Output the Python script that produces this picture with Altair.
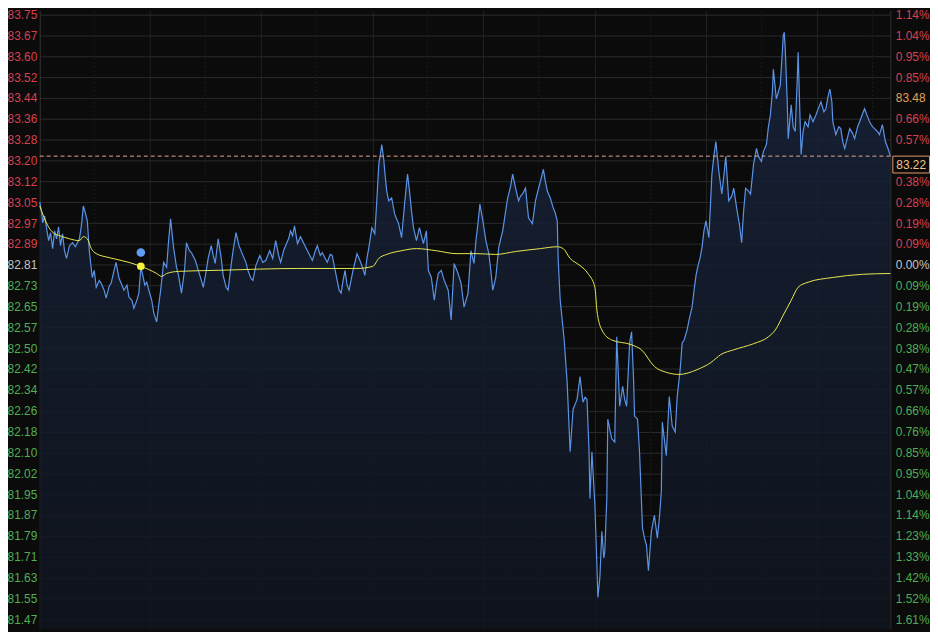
import altair as alt
import pandas as pd

# ---- axis / reference values ----
PRE_CLOSE = 82.81
STEP = 0.0787
LAST_PRICE = 83.22
Y_DOMAIN = [81.434, 83.769]
X_DOMAIN = [0, 858]
VGRID = [111, 223, 336, 447, 560, 672, 784]
VGRID_MINOR = [55, 167, 279, 391, 503, 616, 728, 840]

LEFT_LABELS = ["83.75", "83.67", "83.60", "83.52", "83.44", "83.36", "83.28", "83.20", "83.12", "83.05",
               "82.97", "82.89", "82.81", "82.73", "82.65", "82.57", "82.50", "82.42", "82.34", "82.26",
               "82.18", "82.10", "82.02", "81.95", "81.87", "81.79", "81.71", "81.63", "81.55", "81.47"]
# the 0.47% slot above the pre-close is hidden behind the last-price tag in the reference
RIGHT_LABELS = ["1.14%", "1.04%", "0.95%", "0.85%", "83.48", "0.66%", "0.57%", "", "0.38%", "0.28%",
                "0.19%", "0.09%", "0.00%", "0.09%", "0.19%", "0.28%", "0.38%", "0.47%", "0.57%", "0.66%",
                "0.76%", "0.85%", "0.95%", "1.04%", "1.14%", "1.23%", "1.33%", "1.42%", "1.52%", "1.61%"]

# ---- price series (time index, price) ----
T = [0, 2, 3, 5, 7, 9, 11, 13, 15, 17, 19, 21, 23, 25, 27, 30, 33, 36, 40, 42, 44, 46, 48, 50, 53, 55, 57, 60, 62, 65,
     67, 70, 72, 75, 77, 80, 83, 85, 88, 90, 93, 95, 98, 100, 102, 104, 106, 108, 110, 113, 115, 118, 120, 122, 125,
     128, 130, 132, 135, 138, 140, 143, 146, 148, 151, 153, 157, 160, 163, 165, 168, 170, 173, 175, 177, 180, 183, 185, 188,
     190, 193, 195, 198, 201, 205, 208, 210, 213, 215, 218, 222, 225, 228, 232, 235, 238, 241, 243, 246, 248, 251, 253,
     255, 257, 260, 263, 265, 268, 270, 273, 275, 278, 280, 283, 285, 288, 290, 293, 295, 298, 300, 302, 304, 306, 308,
     310, 312, 314, 316, 318,
     320, 323, 326, 328, 330, 332, 335, 338, 340, 342, 344, 345, 347, 348, 350, 352, 355, 358, 360, 362, 365, 368, 371,
     373, 375, 377, 380, 383, 385, 387, 390, 392, 395, 398, 400, 402, 405, 408, 410, 412, 415, 418, 420, 422, 425, 428,
     430, 432, 435, 438, 440, 442, 444, 447, 450, 453, 455, 457, 460, 463, 465, 467, 470, 472, 475, 477, 480, 483, 485,
     487, 490, 493, 495, 497, 500, 503, 505, 508, 510, 512, 515, 518, 520, 522, 523, 525, 527, 529,
     532, 535, 538, 540, 542, 545, 547, 548, 550, 552, 554, 555, 557, 560, 562, 563, 565, 567, 569, 570, 572, 573, 575,
     577, 580, 582, 585, 588, 590, 592, 595, 597, 599, 600, 603, 605, 608, 610, 612, 614, 617, 620, 623, 625, 627, 628,
     630, 632, 635, 638, 641, 643, 646, 648, 650, 653, 655, 658,
     660, 662, 664, 666, 668, 670, 672, 675, 678, 680, 682, 685, 688, 690, 692, 695, 698, 700, 703, 706, 708, 710, 712,
     715, 717, 720, 723, 725, 728, 730, 733, 735, 737, 739, 740, 743, 745, 747, 749, 750, 751, 752, 754, 755, 758, 760,
     762, 764, 765, 767, 768, 770, 772, 775, 777, 780, 783, 786, 788, 791, 793, 795, 797, 799, 800, 803, 806, 808, 810,
     812, 815, 817, 820, 822, 825, 827, 830, 832, 835, 837, 840, 842, 845, 847, 850, 853, 856, 858]

PRICE = [83.047, 83.006, 82.968, 82.994, 82.946, 82.901, 82.931, 82.871, 82.938, 82.908,
         82.953, 82.882, 82.927, 82.863, 82.834, 82.882, 82.893, 82.878, 82.908, 82.957,
         83.032, 83.006, 82.976, 82.863, 82.762, 82.789, 82.725, 82.751, 82.740, 82.714,
         82.684, 82.729, 82.740, 82.789, 82.819, 82.759, 82.733, 82.714, 82.733, 82.688,
         82.676, 82.646, 82.676, 82.703, 82.800, 82.770, 82.733, 82.744, 82.714, 82.676,
         82.628, 82.594, 82.658, 82.714, 82.819, 82.800, 82.901, 82.983, 82.875, 82.800,
         82.770, 82.703, 82.789, 82.893, 82.863, 82.856, 82.826, 82.789, 82.751, 82.725,
         82.789, 82.837, 82.882, 82.845, 82.815, 82.908, 82.837, 82.770, 82.725,
         82.714, 82.807, 82.863, 82.931, 82.882, 82.845, 82.819, 82.789, 82.759, 82.751,
         82.807, 82.845, 82.819, 82.826, 82.863, 82.834, 82.901, 82.845, 82.819, 82.863,
         82.882, 82.908, 82.938, 82.920, 82.957, 82.890, 82.916, 82.901, 82.878, 82.863,
         82.841, 82.826, 82.863, 82.882, 82.845, 82.856, 82.834, 82.819, 82.849, 82.845,
         82.789, 82.751, 82.714, 82.703, 82.751, 82.789, 82.733, 82.714, 82.751, 82.789, 82.819,
         82.852, 82.826, 82.796, 82.770, 82.834, 82.875, 82.950, 82.927, 83.051, 83.189,
         83.238, 83.264, 83.208, 83.163, 83.088, 83.051, 83.062, 83.002, 82.983, 82.965,
         82.912, 83.039, 83.152, 83.088, 83.013, 82.950, 82.901, 82.950, 82.920, 82.890,
         82.938, 82.789, 82.762, 82.676, 82.733, 82.777, 82.789, 82.751, 82.733, 82.714,
         82.602, 82.815, 82.796, 82.777, 82.740, 82.650, 82.676, 82.703, 82.863, 82.815,
         82.901, 82.965, 83.039, 82.976, 82.901, 82.852, 82.789, 82.714, 82.762, 82.875,
         82.908, 82.938, 83.013, 83.062, 83.107, 83.152, 83.099, 83.051, 83.069, 83.077,
         83.099, 82.987, 82.976, 82.965, 83.051, 83.096, 83.125, 83.170, 83.125, 83.088,
         83.062, 83.024, 83.006, 82.976, 82.826, 82.676, 82.602, 82.526,
         82.366, 82.104, 82.265, 82.283, 82.302, 82.388, 82.321, 82.291, 82.310, 82.302,
         82.115, 81.928, 82.104, 81.902, 81.677, 81.554, 81.629, 81.804, 81.703, 81.730,
         81.928, 82.227, 82.190, 82.153, 82.141, 82.538, 82.276, 82.351, 82.302, 82.276,
         82.515, 82.557, 82.377, 82.239, 82.227, 82.104, 81.816, 81.778, 81.752, 81.655,
         81.804, 81.864, 81.778, 81.853, 81.954, 82.216, 82.153, 82.089, 82.313, 82.201,
         82.179, 82.313, 82.414, 82.515, 82.526, 82.564, 82.602, 82.650,
         82.714, 82.770, 82.807, 82.834, 82.875, 82.938, 82.976, 82.912, 83.152, 83.219,
         83.275, 83.163, 83.077, 83.144, 83.219, 83.051, 83.069, 83.099, 83.024, 82.957,
         82.893, 83.013, 83.099, 83.088, 83.077, 83.189, 83.249, 83.219, 83.200, 83.238,
         83.264, 83.331, 83.376, 83.462, 83.548, 83.436, 83.462, 83.488, 83.612, 83.676,
         83.687, 83.623, 83.425, 83.286, 83.414, 83.331, 83.313, 83.500, 83.612, 83.350,
         83.226, 83.313, 83.350, 83.331, 83.376, 83.350, 83.376, 83.406, 83.425, 83.387,
         83.399, 83.443, 83.473, 83.425, 83.350, 83.301, 83.331, 83.324, 83.275, 83.249,
         83.294, 83.324, 83.305, 83.286, 83.331, 83.350, 83.380, 83.399, 83.369, 83.350,
         83.331, 83.324, 83.313, 83.301, 83.339, 83.275, 83.245, 83.220]

# ---- average price line ----
AVG_T = [0, 5, 10, 15, 20, 30, 40, 44, 48, 52, 57, 70, 90, 102, 110, 118, 123, 128, 140, 180,
         260, 320, 336, 342, 350, 365, 380, 400, 420, 440, 460, 480, 505, 522, 528, 535, 545, 553, 560, 562,
         567, 577, 597, 607, 620, 633, 645, 663, 677, 687, 700, 720, 735, 742, 750, 758, 765, 775, 800, 830, 858]
AVG = [83.032, 82.983, 82.946, 82.927, 82.920, 82.908, 82.901, 82.916, 82.908, 82.871,
       82.852, 82.837, 82.819, 82.804, 82.792, 82.777, 82.766, 82.777, 82.785, 82.789,
       82.796, 82.796, 82.804, 82.834, 82.849, 82.863, 82.871, 82.863, 82.852, 82.852,
       82.849, 82.860, 82.871, 82.878, 82.871, 82.834, 82.807, 82.777, 82.725, 82.639,
       82.564, 82.526, 82.508, 82.489, 82.426, 82.403, 82.396, 82.414, 82.441, 82.471,
       82.489, 82.512, 82.538, 82.564, 82.620, 82.676, 82.725, 82.744, 82.762, 82.774, 82.777]

# ---- cursor marker ----
CURSOR_T = 102
CURSOR_PRICE = 82.856
CURSOR_AVG = 82.804

RED = "#d9414f"
GREEN = "#4fae57"
GRAY = "#c4c4c4"
ORANGE = "#e3a258"
BLUE = "#5b93e6"
YELLOW = "#e8e850"
BG = "#0b0b0b"
FONT = "Liberation Sans"

TICKS = [round(PRE_CLOSE + k * STEP, 4) for k in range(12, -18, -1)]
TOP_TICK = TICKS[0]


def label_expr(labels):
    arr = ",".join("'" + s + "'" for s in labels)
    return "[" + arr + "][round((" + str(TOP_TICK) + " - datum.value) / " + str(STEP) + ")]"


price_df = pd.DataFrame({"t": T, "price": PRICE})
avg_df = pd.DataFrame({"t": AVG_T, "price": AVG})
cursor_df = pd.DataFrame({"t": [CURSOR_T, CURSOR_T], "price": [CURSOR_PRICE, CURSOR_AVG],
                          "kind": ["price", "avg"]})
minor_df = pd.DataFrame({"t": VGRID_MINOR})
last_df = pd.DataFrame({"price": [LAST_PRICE], "label": [f"{LAST_PRICE:.2f}"]})

y_scale = alt.Scale(domain=Y_DOMAIN, zero=False, nice=False)
x_scale = alt.Scale(domain=X_DOMAIN, zero=False, nice=False)

x_axis = alt.Axis(values=VGRID, labels=False, ticks=False, domain=False, grid=True,
                  gridColor="#222222", gridWidth=1, title=None)
X = alt.X("t:Q", scale=x_scale, axis=x_axis)
Y_NOAXIS = alt.Y("price:Q", scale=y_scale, axis=None)

left_axis = alt.Axis(
    orient="left", values=TICKS, labelExpr=label_expr(LEFT_LABELS), grid=True,
    gridColor="#282a2e", gridWidth=1, ticks=False, domain=True, domainColor="#333333",
    labelPadding=3, labelFont=FONT, labelFontSize=12, title=None, labelFlush=False,
    labelColor={"condition": [{"test": "datum.value > 82.83", "value": RED},
                              {"test": "datum.value < 82.79", "value": GREEN}],
                "value": GRAY},
)
right_axis = alt.Axis(
    orient="right", values=TICKS, labelExpr=label_expr(RIGHT_LABELS), grid=False,
    ticks=False, domain=True, domainColor="#333333",
    labelPadding=5, labelFont=FONT, labelFontSize=12, title=None, labelFlush=False,
    labelColor={"condition": [{"test": "abs(datum.value - 83.4396) < 0.01", "value": ORANGE},
                              {"test": "datum.value > 82.83", "value": RED},
                              {"test": "datum.value < 82.79", "value": GREEN}],
                "value": GRAY},
)

minor_grid = alt.Chart(minor_df).mark_rule(color="#1c1c1c", strokeDash=[2, 2], strokeWidth=1).encode(
    x=alt.X("t:Q", scale=x_scale, axis=x_axis))

area = alt.Chart(price_df).mark_area(
    color={"x1": 0, "y1": 0, "x2": 0, "y2": 1, "gradient": "linear",
           "stops": [{"offset": 0, "color": "#18243c"}, {"offset": 1, "color": "#0f141e"}]},
    opacity=0.85,
).encode(x=X, y=alt.Y("price:Q", scale=y_scale, axis=left_axis), y2=alt.datum(Y_DOMAIN[0]))

line = alt.Chart(price_df).mark_line(color=BLUE, strokeWidth=1.2).encode(
    x=X, y=alt.Y("price:Q", scale=y_scale, axis=right_axis))

avg_line = alt.Chart(avg_df).mark_line(color=YELLOW, strokeWidth=1, interpolate="monotone").encode(
    x=X, y=Y_NOAXIS)

last_rule = alt.Chart(last_df).mark_rule(color="#e6a78c", strokeDash=[4, 3], strokeWidth=1).encode(
    y=Y_NOAXIS)

cursor = alt.Chart(cursor_df).mark_circle(opacity=1).encode(
    x=X, y=Y_NOAXIS,
    color=alt.Color("kind:N", scale=alt.Scale(domain=["price", "avg"], range=["#5f9cf2", "#f4f43c"]), legend=None),
    size=alt.Size("kind:N", scale=alt.Scale(domain=["price", "avg"], range=[75, 60]), legend=None),
)

box = alt.Chart(last_df).mark_rect(fill=BG, stroke="#e59a6a", strokeWidth=1, y2Offset=17).encode(
    x=alt.value(860.5), x2=alt.value(897.5), y=Y_NOAXIS, y2=alt.Y2("price:Q"))

box_text = alt.Chart(last_df).mark_text(font=FONT, fontSize=12, color="#f0c690", align="center",
                                        baseline="middle", yOffset=9).encode(
    x=alt.value(879), y=Y_NOAXIS, text="label:N")

chart = alt.layer(minor_grid, area, line, avg_line, last_rule, cursor, box, box_text).resolve_scale(
    y="shared").resolve_axis(y="independent").properties(
    width=858, height=624,
    padding={"left": 32, "right": 40, "top": 0, "bottom": 0},
    autosize=alt.AutoSizeParams(type="none"),
    background=BG,
).configure_view(strokeWidth=0)

chart.save("out.html", embed_options={"renderer": "svg", "actions": False})
